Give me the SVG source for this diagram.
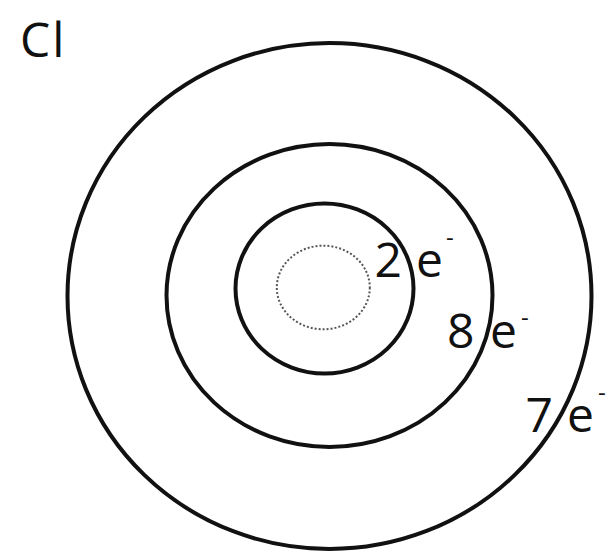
<svg xmlns="http://www.w3.org/2000/svg" width="607" height="552" viewBox="0 0 607 552">
<style>
.shell{fill:none;stroke:#111;stroke-width:4}
.core{fill:none;stroke:#555;stroke-width:2;stroke-dasharray:2 2}
.t{font-family:"Open Sans","Liberation Sans",sans-serif;font-size:48px;fill:#111}
.sup{font-family:"Open Sans","Liberation Sans",sans-serif;font-size:24px;fill:#111}
</style>
<rect width="607" height="552" fill="#fff"/>
<g id="label-element"><text class="t" x="20" y="57" letter-spacing="2">Cl</text></g>
<g id="nucleus"><ellipse class="core" cx="323.3" cy="287.5" rx="46.5" ry="41.8"/></g>
<g id="shell1"><ellipse class="shell" cx="324.5" cy="288.5" rx="89" ry="85"/></g>
<g id="shell2"><ellipse class="shell" cx="329.5" cy="295.5" rx="163" ry="151.5"/></g>
<g id="shell3"><ellipse class="shell" cx="329.5" cy="296" rx="262" ry="253"/></g>
<g id="label1"><text class="t" x="374.5" y="277">2</text><text class="t" x="416" y="277">e</text><text class="sup" x="446" y="246">-</text></g>
<g id="label2"><text class="t" x="447" y="348">8</text><text class="t" x="490" y="348">e</text><text class="sup" x="521" y="326">-</text></g>
<g id="label3"><text class="t" x="525.5" y="432">7</text><text class="t" x="567" y="432">e</text><text class="sup" x="598" y="401">-</text></g>
</svg>
